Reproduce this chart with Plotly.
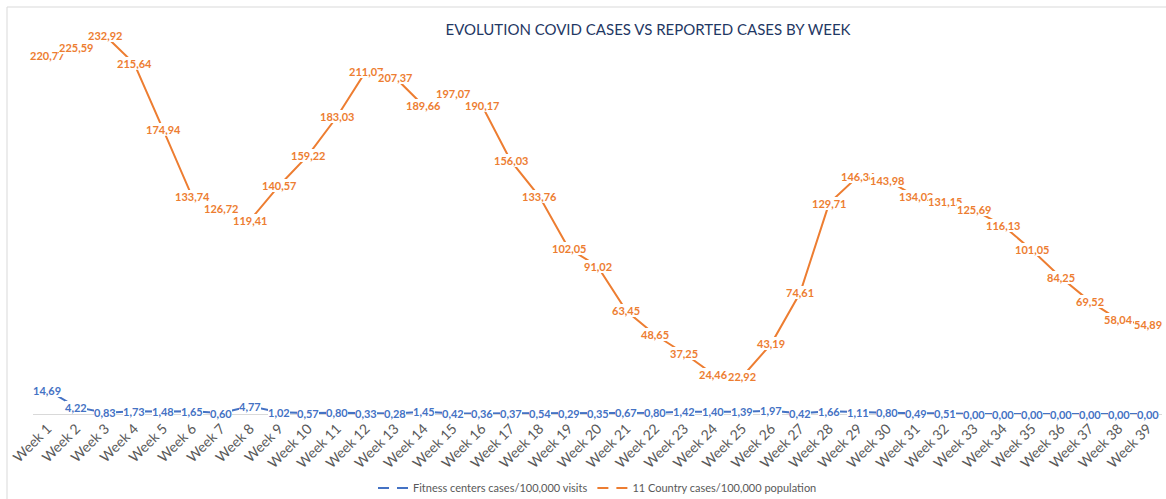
import plotly.graph_objects as go

weeks = [f"Week {i}" for i in range(1, 40)]

fitness_cases = [14.69, 4.22, 0.83, 1.73, 1.48, 1.65, 0.60, 4.77, 1.02, 0.57,
                 0.80, 0.33, 0.28, 1.45, 0.42, 0.36, 0.37, 0.54, 0.29, 0.35,
                 0.67, 0.80, 1.42, 1.40, 1.39, 1.97, 0.42, 1.66, 1.11, 0.80,
                 0.49, 0.51, 0.00, 0.00, 0.00, 0.00, 0.00, 0.00, 0.00]

country_cases = [220.77, 225.59, 232.92, 215.64, 174.94, 133.74, 126.72, 119.41, 140.57, 159.22,
                 183.03, 211.07, 207.37, 189.66, 197.07, 190.17, 156.03, 133.76, 102.05, 91.02,
                 63.45, 48.65, 37.25, 24.46, 22.92, 43.19, 74.61, 129.71, 146.36, 143.98,
                 134.02, 131.15, 125.69, 116.13, 101.05, 84.25, 69.52, 58.04, 54.89]

series_names = ["Fitness centers cases/100,000 visits", "11 Country cases/100,000 population"]
blue = "#4472C4"
orange = "#ED7D31"
font_family = "Lato, Open Sans, sans-serif"


def fmt(v):
    return f"{v:.2f}".replace(".", ",")


fig = go.Figure()
for name, vals, col in [(series_names[0], fitness_cases, blue), (series_names[1], country_cases, orange)]:
    fig.add_trace(go.Scatter(x=weeks, y=vals, mode="lines", name=name, showlegend=False,
                             line=dict(color=col, width=2)))
# legend keys drawn dashed, as in the original legend
for name, col in [(series_names[0], blue), (series_names[1], orange)]:
    fig.add_trace(go.Scatter(x=[None], y=[None], mode="lines", name=name, showlegend=True,
                             line=dict(color=col, width=2, dash="11px,8px")))

annotations = []
for vals, col in [(fitness_cases, blue), (country_cases, orange)]:
    for w, v in zip(weeks, vals):
        annotations.append(dict(x=w, y=v, xref="x", yref="y", text=fmt(v), showarrow=False,
                                bgcolor="white", borderpad=0, borderwidth=0,
                                font=dict(family=font_family, size=11, color=col, weight="bold")))

fig.update_layout(
    width=1166, height=499,
    margin=dict(l=33, r=4, t=8, b=85, autoexpand=False),
    paper_bgcolor="white", plot_bgcolor="white",
    title=dict(text="EVOLUTION COVID CASES VS REPORTED CASES BY WEEK",
               x=648 / 1166, xanchor="center", xref="container",
               y=1 - 30 / 499, yref="container", yanchor="middle",
               font=dict(family=font_family, size=15, color="#1F3864")),
    xaxis=dict(showgrid=False, showline=True, linecolor="#D9D9D9", linewidth=1,
               tickangle=-45, ticks="", automargin=False,
               tickfont=dict(family=font_family, size=14, color="#595959"),
               range=[-0.5, 38.5]),
    yaxis=dict(range=[0, 250], showgrid=False, zeroline=False, showticklabels=False, showline=False),
    legend=dict(orientation="h", x=0.5, xanchor="center", y=1 - 488 / 499, yref="container",
                yanchor="middle", font=dict(family=font_family, size=11, color="#595959"),
                itemwidth=30),
    annotations=annotations,
    showlegend=True,
    shapes=[dict(type="rect", xref="paper", yref="paper", x0=-26 / 1129, x1=1.1,
                 y0=-0.3, y1=1 + 1 / 406, line=dict(color="#D9D9D9", width=1), layer="below")],
)

fig.write_html("out.html", config={"displayModeBar": False},
               post_script="document.body.style.margin='0';document.body.style.overflow='hidden';")
